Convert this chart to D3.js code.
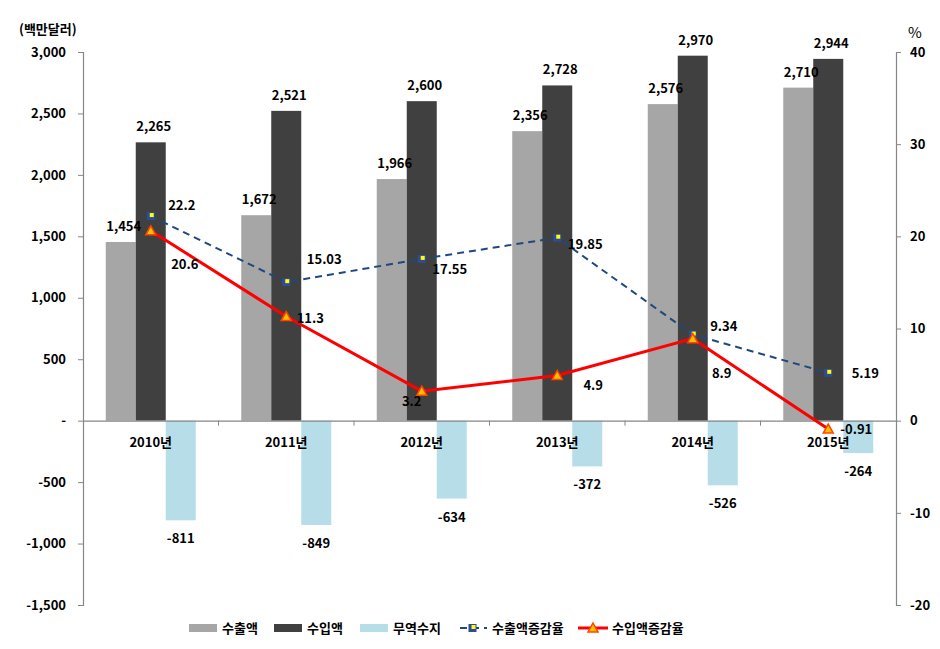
<!DOCTYPE html>
<html>
<head>
<meta charset="utf-8">
<script src="https://cdn.jsdelivr.net/npm/d3@7"></script>
<style>
  html, body { margin: 0; padding: 0; background: #fff; }
  text { font-family: "Malgun Gothic", "Noto Sans CJK KR", sans-serif; fill: #000; }
</style>
</head>
<body>
<svg id="chart" width="940" height="649"></svg>
<script>
// ---- data ----
const categories = ["2010년", "2011년", "2012년", "2013년", "2014년", "2015년"];
const exports_ = [1454, 1672, 1966, 2356, 2576, 2710];
const imports_ = [2265, 2521, 2600, 2728, 2970, 2944];
const balance = [-811, -849, -634, -372, -526, -264];
const exportGrowth = [22.2, 15.03, 17.55, 19.85, 9.34, 5.19];
const importGrowth = [20.6, 11.3, 3.2, 4.9, 8.9, -0.91];
const leftTicks = [-1500, -1000, -500, 0, 500, 1000, 1500, 2000, 2500, 3000];
const rightTicks = [-20, -10, 0, 10, 20, 30, 40];
const seriesNames = ["수출액", "수입액", "무역수지", "수출액증감율", "수입액증감율"];

// ---- layout / style (not data) ----
const colors = { exp: "#A6A6A6", imp: "#404040", bal: "#B7DEE8", expLine: "#1F497D", impLine: "#FF0000" };
// label offsets for growth labels (dx, dy relative to point, text centre)
const expLabelOff = [[31, -11], [38, -23], [28, 10], [28, 6], [31, -9], [37, 0]];
const impLabelOff = [[34, 33], [24, 1], [-10, 10], [36, 9], [29, 34], [28, 0]];

const svg = d3.select("#chart");
const L = 83, R = 896, T = 52, B = 605;
const fmt = d3.formatLocale({decimal: ".", thousands: ",", grouping: [3], currency: ["", ""], minus: "-"}).format(",");

const x = d3.scaleBand().domain(categories).range([L, R]).padding(0);
const bw = x.bandwidth();
const inner = d3.scaleBand().domain(["exp", "imp", "bal"]).range([0, bw]).paddingInner(0).paddingOuter((bw - 90) / 2 / 30);
const yL = d3.scaleLinear().domain([-1500, 3000]).range([B, T]);
const yR = d3.scaleLinear().domain([-20, 40]).range([B, T]);

// bars
const barData = [];
categories.forEach((c, i) => {
  barData.push({c, k: "exp", v: exports_[i]});
  barData.push({c, k: "imp", v: imports_[i]});
  barData.push({c, k: "bal", v: balance[i]});
});
svg.append("g").selectAll("rect").data(barData).join("rect")
  .attr("x", d => x(d.c) + inner(d.k))
  .attr("width", inner.bandwidth())
  .attr("y", d => yL(Math.max(0, d.v)))
  .attr("height", d => Math.abs(yL(d.v) - yL(0)))
  .attr("fill", d => colors[d.k]);

// left axis
const axL = svg.append("g").attr("transform", `translate(${L},0)`)
  .call(d3.axisLeft(yL).tickValues(leftTicks).tickSize(5).tickPadding(12)
    .tickFormat(d => d === 0 ? "-" : fmt(d)));
axL.select(".domain").attr("stroke", "#868686").attr("stroke-width", 1.2);
axL.selectAll(".tick line").attr("stroke", "#868686");
axL.selectAll(".tick text").style("font-size", "13px").style("font-weight", "bold").attr("fill", "#000")
  .style("font-family", "'Noto Sans CJK KR', sans-serif");

// right axis
const axR = svg.append("g").attr("transform", `translate(${R},0)`)
  .call(d3.axisRight(yR).tickValues(rightTicks).tickSize(5).tickPadding(9)
    .tickFormat(d => fmt(d)));
axR.select(".domain").attr("stroke", "#868686").attr("stroke-width", 1.2);
axR.selectAll(".tick line").attr("stroke", "#868686");
axR.selectAll(".tick text").style("font-size", "13px").style("font-weight", "bold").attr("fill", "#000")
  .style("font-family", "'Noto Sans CJK KR', sans-serif");

// zero / category axis
const axX = svg.append("g").attr("transform", `translate(0,${yL(0)})`)
  .call(d3.axisBottom(x).tickSize(0).tickPadding(17));
axX.select(".domain").attr("stroke", "#868686").attr("stroke-width", 1.2);
axX.selectAll(".tick text").style("font-size", "13px").style("font-weight", "bold").attr("fill", "#000")
  .style("font-family", "'Noto Sans CJK KR', sans-serif");
// category boundary ticks
const bounds = categories.slice(1).map(c => x(c));
svg.append("g").selectAll("line").data(bounds).join("line")
  .attr("x1", d => d).attr("x2", d => d)
  .attr("y1", yL(0)).attr("y2", yL(0) + 5)
  .attr("stroke", "#868686");

// bar labels
const lblStyle = sel => sel.style("font-size", "13px").style("font-weight", "bold")
  .style("font-family", "'Noto Sans CJK KR', sans-serif").attr("text-anchor", "middle");
svg.append("g").selectAll("text").data(barData).join("text")
  .attr("x", d => x(d.c) + inner(d.k) + inner.bandwidth() / 2 + (d.k === "bal" ? 0 : 3))
  .attr("y", d => d.v >= 0 ? yL(d.v) - 11 : yL(d.v) + 23)
  .text(d => fmt(d.v))
  .call(lblStyle);

// lines
const cx = c => x(c) + bw / 2;
const expPts = categories.map((c, i) => [cx(c), yR(exportGrowth[i])]);
const impPts = categories.map((c, i) => [cx(c), yR(importGrowth[i])]);
const line = d3.line();
svg.append("path").attr("d", line(expPts)).attr("fill", "none")
  .attr("stroke", colors.expLine).attr("stroke-width", 2).attr("stroke-dasharray", "7,5");
svg.append("path").attr("d", line(impPts)).attr("fill", "none")
  .attr("stroke", colors.impLine).attr("stroke-width", 3);

// markers
function squareMarker(g, px, py) {
  g.append("rect").attr("x", px - 4).attr("y", py - 4).attr("width", 8).attr("height", 8)
    .attr("fill", "#2E4B9B");
  g.append("rect").attr("x", px - 1).attr("y", py - 3).attr("width", 4).attr("height", 4)
    .attr("fill", "#FFFF00");
}
function triMarker(g, px, py) {
  g.append("path").attr("d", `M${px},${py - 5}L${px + 5},${py + 4}L${px - 5},${py + 4}Z`)
    .attr("fill", "#FFC000").attr("stroke", "#FF4500").attr("stroke-width", 1.5);
}
const mg = svg.append("g");
expPts.forEach(p => squareMarker(mg, p[0], p[1]));
impPts.forEach(p => triMarker(mg, p[0], p[1]));

// line labels
svg.append("g").selectAll("text").data(exportGrowth).join("text")
  .attr("x", (d, i) => expPts[i][0] + expLabelOff[i][0])
  .attr("y", (d, i) => expPts[i][1] + expLabelOff[i][1] + 5)
  .text(d => fmt(d)).call(lblStyle);
svg.append("g").selectAll("text").data(importGrowth).join("text")
  .attr("x", (d, i) => impPts[i][0] + impLabelOff[i][0])
  .attr("y", (d, i) => impPts[i][1] + impLabelOff[i][1] + 5)
  .text(d => fmt(d)).call(lblStyle);

// axis titles
svg.append("text").attr("x", 19).attr("y", 34).text("(백만달러)")
  .style("font-size", "13px").style("font-weight", "bold").style("font-family", "'Noto Sans CJK KR', sans-serif");
svg.append("text").attr("x", 908).attr("y", 38).text("%")
  .style("font-size", "15px").style("font-family", "'Noto Sans CJK KR', sans-serif");

// legend
const lg = svg.append("g").attr("transform", "translate(0,628)");
const legendX = [189, 274, 360, 458, 578];
seriesNames.forEach((name, i) => {
  const lx = legendX[i];
  if (i < 3) {
    const k = ["exp", "imp", "bal"][i];
    lg.append("rect").attr("x", lx).attr("y", -4).attr("width", 28).attr("height", 8).attr("fill", colors[k]);
  } else if (i === 3) {
    lg.append("line").attr("x1", lx).attr("x2", lx + 29).attr("y1", 0).attr("y2", 0)
      .attr("stroke", colors.expLine).attr("stroke-width", 2).attr("stroke-dasharray", "7,5").attr("stroke-dashoffset", -2);
    squareMarker(lg, lx + 14.5, 0);
  } else {
    lg.append("line").attr("x1", lx).attr("x2", lx + 30).attr("y1", 0).attr("y2", 0)
      .attr("stroke", colors.impLine).attr("stroke-width", 3);
    triMarker(lg, lx + 15, 0);
  }
  lg.append("text").attr("x", lx + (i < 3 ? 33 : 34)).attr("y", 5).text(name)
    .style("font-size", "13px").style("font-weight", "bold").style("font-family", "'Noto Sans CJK KR', sans-serif");
});
</script>
</body>
</html>
